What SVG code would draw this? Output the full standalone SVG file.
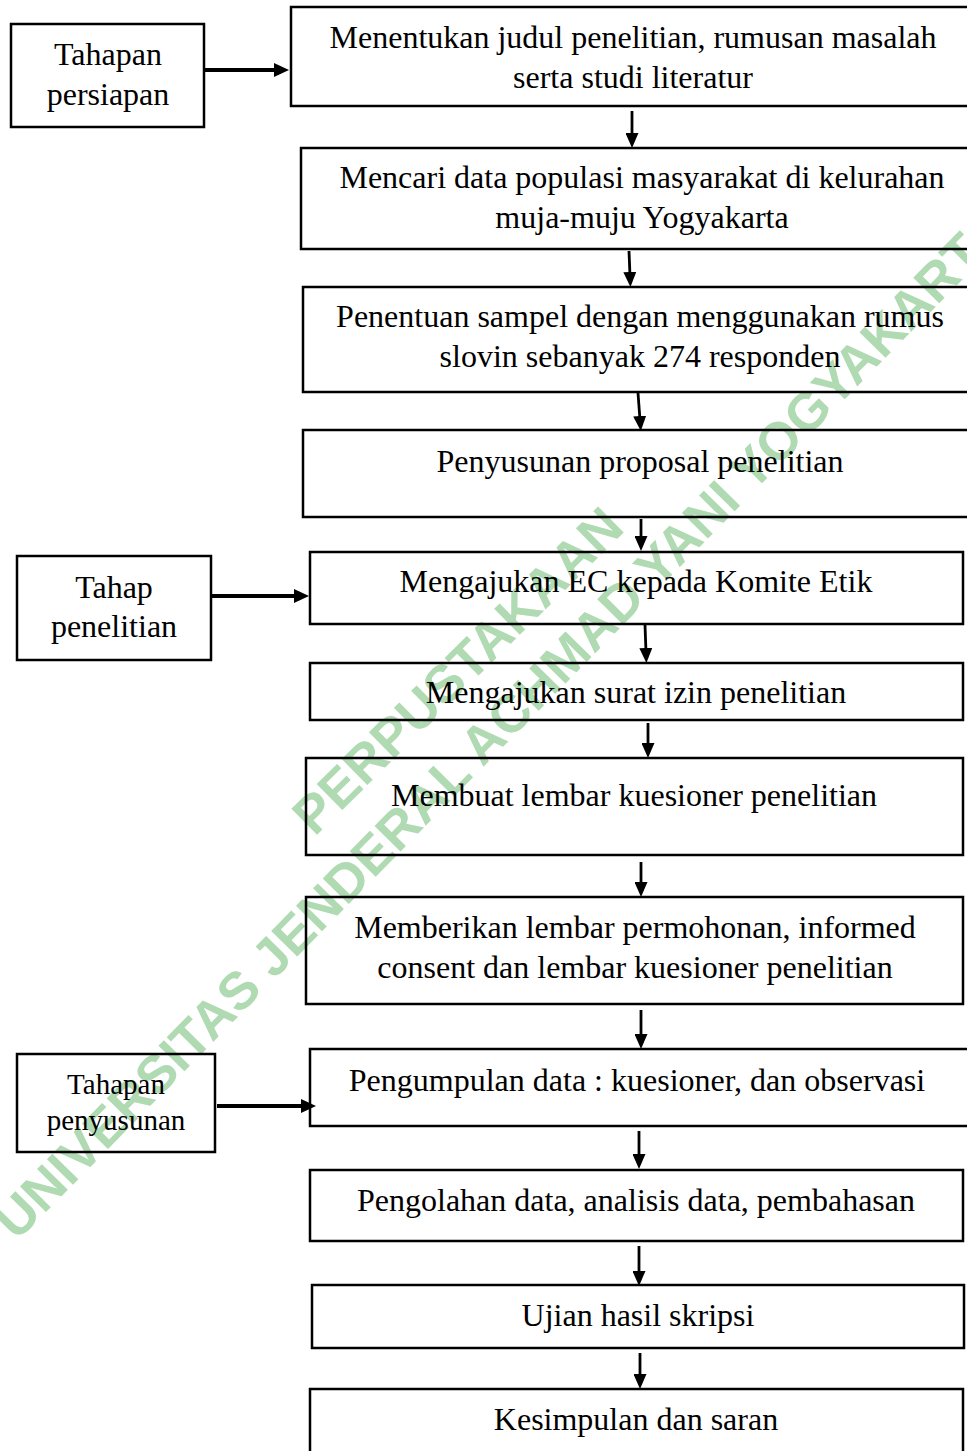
<svg xmlns="http://www.w3.org/2000/svg" width="967" height="1451" viewBox="0 0 967 1451">
<defs>
<style>
.box{fill:none;stroke:#000;stroke-width:2.5}
.t{font-family:"Liberation Serif","Times New Roman",serif;font-size:32px;fill:#000;text-anchor:middle}
.ts{font-family:"Liberation Serif","Times New Roman",serif;font-size:29px;fill:#000;text-anchor:middle}
.wm{font-family:"Liberation Sans",Arial,sans-serif;font-weight:bold;font-size:53px;fill:#b0dab2;text-anchor:middle}
.c{stroke:#000;stroke-width:2.8;fill:none;marker-end:url(#ah)}
.ch{stroke:#000;stroke-width:4;fill:none;marker-end:url(#ahh)}
</style>
<marker id="ah" markerUnits="userSpaceOnUse" markerWidth="15" markerHeight="13" refX="4" refY="6.5" orient="auto"><path d="M0,0 L15,6.5 L0,13 z" fill="#000"/></marker>
<marker id="ahh" markerUnits="userSpaceOnUse" markerWidth="15" markerHeight="14" refX="4" refY="7" orient="auto"><path d="M0,0 L15,7 L0,14 z" fill="#000"/></marker>
</defs>
<rect width="967" height="1451" fill="#fff"/>
<g id="watermark">
<text class="wm" transform="translate(457,670) rotate(-44.6)" y="19">PERPUSTAKAAN</text>
<text class="wm" transform="translate(500,723) rotate(-45.5)" y="19">UNIVERSITAS JENDERAL ACHMAD YANI YOGYAKARTA</text>
</g>
<g id="connectors">
<line class="ch" x1="204" y1="70" x2="278" y2="70"/>
<line class="c" x1="632" y1="111" x2="632" y2="137"/>
<line class="c" x1="629" y1="251" x2="630" y2="276"/>
<line class="c" x1="638" y1="393" x2="640" y2="420"/>
<line class="c" x1="641" y1="519" x2="641" y2="540"/>
<line class="ch" x1="212" y1="596" x2="298" y2="596"/>
<line class="c" x1="645" y1="625" x2="646" y2="652"/>
<line class="c" x1="648" y1="723" x2="648" y2="747"/>
<line class="c" x1="641" y1="862" x2="641" y2="886"/>
<line class="c" x1="641" y1="1010" x2="641" y2="1038"/>
<line class="ch" x1="217" y1="1106" x2="305" y2="1106"/>
<line class="c" x1="639" y1="1131" x2="639" y2="1158"/>
<line class="c" x1="639" y1="1246" x2="639" y2="1275"/>
<line class="c" x1="640" y1="1353" x2="640" y2="1378"/>
</g>
<g id="tahapan-persiapan">
<rect class="box" x="11" y="24" width="193" height="103"/>
<text class="t" x="108" y="65">Tahapan</text>
<text class="t" x="108" y="105">persiapan</text>
</g>
<g id="n1">
<rect class="box" x="291" y="7" width="690" height="99"/>
<text class="t" x="633" y="48">Menentukan judul penelitian, rumusan masalah</text>
<text class="t" x="633" y="88">serta studi literatur</text>
</g>
<g id="n2">
<rect class="box" x="301" y="148" width="680" height="101"/>
<text class="t" x="642" y="188">Mencari data populasi masyarakat di kelurahan</text>
<text class="t" x="642" y="228">muja-muju Yogyakarta</text>
</g>
<g id="n3">
<rect class="box" x="303" y="287" width="678" height="105"/>
<text class="t" x="640" y="327">Penentuan sampel dengan menggunakan rumus</text>
<text class="t" x="640" y="367">slovin sebanyak 274 responden</text>
</g>
<g id="n4">
<rect class="box" x="303" y="430" width="678" height="87"/>
<text class="t" x="640" y="472">Penyusunan proposal penelitian</text>
</g>
<g id="tahap-penelitian">
<rect class="box" x="17" y="556" width="194" height="104"/>
<text class="t" x="114" y="598">Tahap</text>
<text class="t" x="114" y="637">penelitian</text>
</g>
<g id="n5">
<rect class="box" x="310" y="552" width="653" height="72"/>
<text class="t" x="636" y="592">Mengajukan EC kepada Komite Etik</text>
</g>
<g id="n6">
<rect class="box" x="310" y="663" width="653" height="57"/>
<text class="t" x="636" y="703">Mengajukan surat izin penelitian</text>
</g>
<g id="n7">
<rect class="box" x="306" y="758" width="657" height="97"/>
<text class="t" x="634" y="806">Membuat lembar kuesioner penelitian</text>
</g>
<g id="n8">
<rect class="box" x="306" y="897" width="657" height="107"/>
<text class="t" x="635" y="938">Memberikan lembar permohonan, informed</text>
<text class="t" x="635" y="978">consent dan lembar kuesioner penelitian</text>
</g>
<g id="tahapan-penyusunan">
<rect class="box" x="17" y="1054" width="198" height="98"/>
<text class="ts" x="116" y="1094">Tahapan</text>
<text class="ts" x="116" y="1130">penyusunan</text>
</g>
<g id="n9">
<rect class="box" x="310" y="1049" width="671" height="77"/>
<text class="t" x="637" y="1091">Pengumpulan data : kuesioner, dan observasi</text>
</g>
<g id="n10">
<rect class="box" x="310" y="1170" width="653" height="71"/>
<text class="t" x="636" y="1211">Pengolahan data, analisis data, pembahasan</text>
</g>
<g id="n11">
<rect class="box" x="312" y="1285" width="652" height="63"/>
<text class="t" x="638" y="1326">Ujian hasil skripsi</text>
</g>
<g id="n12">
<rect class="box" x="310" y="1389" width="653" height="80"/>
<text class="t" x="636" y="1430">Kesimpulan dan saran</text>
</g>
</svg>
